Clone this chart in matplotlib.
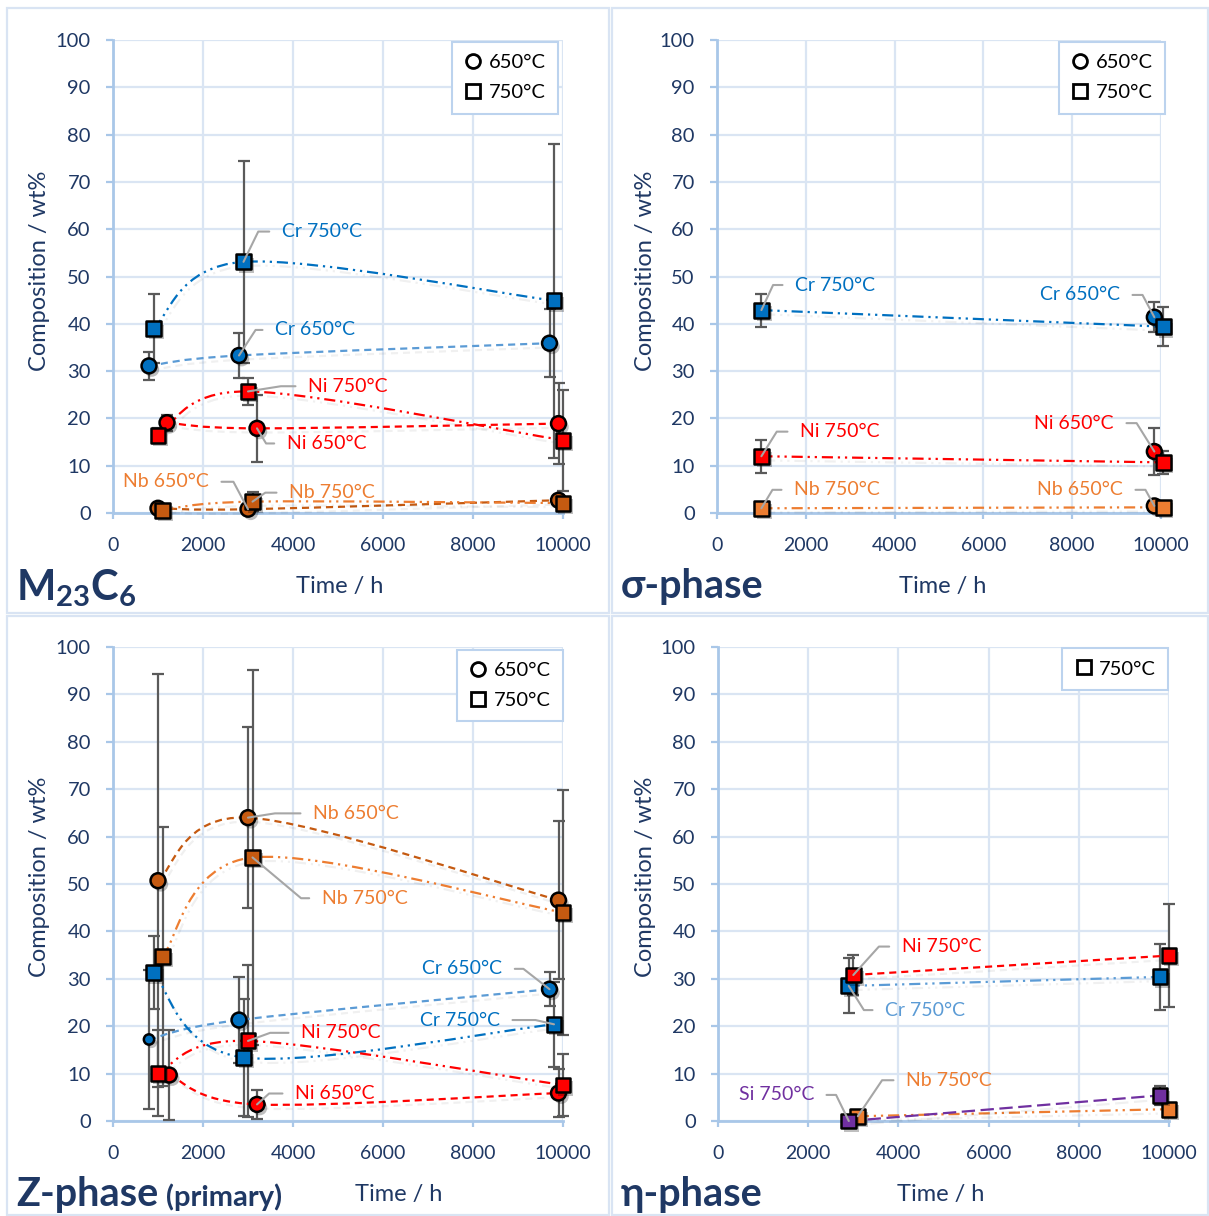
import matplotlib
matplotlib.use("Agg")
import matplotlib.pyplot as plt
import matplotlib.patheffects as pe
from matplotlib.path import Path
from matplotlib.patches import PathPatch, Rectangle
from matplotlib.lines import Line2D
import numpy as np

plt.rcParams['font.family'] = ['Lato', 'DejaVu Sans']
plt.rcParams['mathtext.fontset'] = 'custom'
plt.rcParams['mathtext.bf'] = 'Lato:bold'
plt.rcParams['mathtext.rm'] = 'Lato'

# ---- M23C6 ----
m23_cr650_t = [800, 2800, 9700]
m23_cr650_wt = [31.1, 33.3, 35.9]
m23_cr650_err = [3.0, 4.8, 7.2]
m23_cr750_t = [900, 2900, 9800]
m23_cr750_wt = [39.0, 53.1, 44.9]
m23_cr750_err = [7.2, 21.4, 33.2]
m23_ni650_t = [1200, 3200, 9900]
m23_ni650_wt = [19.1, 17.9, 18.9]
m23_ni650_err = [1.7, 7.1, 8.5]
m23_ni750_t = [1000, 3000, 10000]
m23_ni750_wt = [16.4, 25.7, 15.4]
m23_ni750_err = [1.5, 2.9, 10.7]
m23_nb650_t = [1000, 3000, 9900]
m23_nb650_wt = [1.0, 0.8, 2.7]
m23_nb650_err = [0.5, 0.5, 1.0]
m23_nb750_t = [1100, 3100, 10000]
m23_nb750_wt = [0.6, 2.4, 2.1]
m23_nb750_err = [0.5, 2.0, 0.8]

# ---- sigma phase ----
sig_cr650_t = [9850]
sig_cr650_wt = [41.4]
sig_cr650_err = [3.2]
sig_cr750_t = [1000, 10050]
sig_cr750_wt = [42.9, 39.4]
sig_cr750_err = [3.5, 4.1]
sig_ni650_t = [9850]
sig_ni650_wt = [13.0]
sig_ni650_err = [5.0]
sig_ni750_t = [1000, 10050]
sig_ni750_wt = [12.0, 10.7]
sig_ni750_err = [3.5, 2.5]
sig_nb650_t = [9850]
sig_nb650_wt = [1.5]
sig_nb650_err = [0.5]
sig_nb750_t = [1000, 10050]
sig_nb750_wt = [1.0, 1.2]
sig_nb750_err = [0.3, 0.3]

# ---- Z phase (primary) ----
z_cr650_t = [800, 2800, 9700]
z_cr650_wt = [17.2, 21.3, 27.8]
z_cr650_err = [14.6, 9.1, 3.6]
z_cr750_t = [900, 2900, 9800]
z_cr750_wt = [31.3, 13.4, 20.4]
z_cr750_err = [7.7, 12.3, 9.0]
z_nb650_t = [1000, 3000, 9900]
z_nb650_wt = [50.7, 64.0, 46.6]
z_nb650_err = [43.5, 19.1, 16.7]
z_nb750_t = [1100, 3100, 10000]
z_nb750_wt = [34.7, 55.6, 44.0]
z_nb750_err = [27.4, 39.5, 25.8]
z_ni650_t = [1250, 3200, 9900]
z_ni650_wt = [9.7, 3.5, 5.9]
z_ni650_err = [9.5, 3.0, 5.0]
z_ni750_t = [1000, 3000, 10000]
z_ni750_wt = [10.1, 16.9, 7.6]
z_ni750_err = [9.0, 16.0, 6.5]

# ---- eta phase ----
eta_cr750_t = [2900, 9800]
eta_cr750_wt = [28.5, 30.4]
eta_cr750_err = [5.8, 7.0]
eta_ni750_t = [3000, 10000]
eta_ni750_wt = [30.8, 34.9]
eta_ni750_err = [4.2, 10.8]
eta_si750_t = [2900, 9800]
eta_si750_wt = [0.0, 5.4]
eta_si750_err = [0.3, 2.0]
eta_nb750_t = [3100, 10000]
eta_nb750_wt = [1.0, 2.5]
eta_nb750_err = [0.3, 0.5]

NAVY = '#1f3864'
GRID = '#dae5f3'
SPINE = '#a9c7e8'
BORDER = '#d9e4f3'
LEADER = '#a6a6a6'
CR = '#0070c0'
CR_LIGHT = '#5b9bd5'
NI = '#ff0000'
NB_DARK = '#c55a11'
NB = '#ed7d31'
SI = '#7030a0'

DASH = (0, (3.2, 2.2))
DASHDOTDOT = (0, (5, 2.2, 1, 2.2, 1, 2.2))
LONGDASH = (0, (6, 2.5))

W, H = 1209, 1216


def fx(px):
    return px / W


def fy(py):
    return 1 - py / H


def smooth_path(x, y):
    # cubic Bezier through the points (Catmull-Rom tangents), like Excel smoothed lines
    pts = np.column_stack([x, y]).astype(float)
    n = len(pts)
    verts = [pts[0]]
    codes = [Path.MOVETO]
    for i in range(n - 1):
        p0 = pts[i - 1] if i > 0 else pts[i]
        p1 = pts[i]
        p2 = pts[i + 1]
        p3 = pts[i + 2] if i + 2 < n else pts[i + 1]
        c1 = p1 + (p2 - p0) / 6.0
        c2 = p2 - (p3 - p1) / 6.0
        verts += [c1, c2, p2]
        codes += [Path.CURVE4] * 3
    return Path(verts, codes)


def draw_series(ax, t, wt, err, face, line, ls, marker, sizes=None):
    eb = ax.errorbar(t, wt, yerr=err, fmt='none', ecolor='#5a5a5a', elinewidth=1.6,
                     capsize=4.5, capthick=1.6, zorder=3)
    for art in eb.lines[1] + eb.lines[2]:
        art.set_clip_on(False)
    if len(t) > 1:
        patch = PathPatch(smooth_path(t, wt), fill=False, edgecolor=line, lw=1.6,
                          linestyle=ls, capstyle='butt', zorder=4, clip_on=False,
                          path_effects=[pe.SimpleLineShadow(offset=(2, -3), alpha=0.06),
                                        pe.Normal()])
        ax.add_patch(patch)
    if sizes is None:
        sizes = [115] * len(t)
    ax.scatter(t, wt, s=sizes, marker=marker, facecolor=face, edgecolor='black',
               linewidths=1.8, zorder=6, clip_on=False,
               path_effects=[pe.SimplePatchShadow(offset=(2, -2.5), shadow_rgbFace='black',
                                                  alpha=0.25),
                             pe.Normal()])


def leader_label(ax, text, point, textpos, color, angle, ha='left'):
    ax.annotate(text, xy=point, xytext=textpos, textcoords='data',
                ha=ha, va='center', color=color, fontsize=14, zorder=8,
                arrowprops=dict(arrowstyle='-', color=LEADER, lw=1.5,
                                relpos=(0, 0.5) if ha == 'left' else (1, 0.5),
                                shrinkA=7, shrinkB=0,
                                connectionstyle='angle,angleA=0,angleB=%g,rad=0' % angle))


def setup_axes(rect, legend_labels, legend_anchor):
    ax = fig.add_axes(rect)
    ax.set_xlim(0, 10000)
    ax.set_ylim(0, 100)
    ax.set_xticks(np.arange(0, 10001, 2000))
    ax.set_yticks(np.arange(0, 101, 10))
    ax.grid(True, color=GRID, lw=1.6, zorder=0)
    ax.set_axisbelow(True)
    for s in ('top', 'right'):
        ax.spines[s].set_visible(False)
    for s in ('left', 'bottom'):
        ax.spines[s].set_color(SPINE)
        ax.spines[s].set_linewidth(2)
    ax.tick_params(axis='y', direction='out', length=5, width=1.6, color=SPINE,
                   labelcolor=NAVY, labelsize=14.5, pad=11)
    ax.tick_params(axis='x', direction='out', length=4, width=1.6, color=SPINE,
                   labelcolor=NAVY, labelsize=14, pad=13)
    handles = []
    for lab in legend_labels:
        mk = 'o' if lab.startswith('650') else 's'
        handles.append(Line2D([], [], ls='none', marker=mk, mfc='none', mec='black',
                              mew=2.0, ms=10, label=lab))
    leg = ax.legend(handles=handles, loc='upper right', bbox_to_anchor=legend_anchor,
                    borderaxespad=0, fancybox=False, fontsize=14.5, handletextpad=0.3,
                    handlelength=0.9, borderpad=0.62, labelspacing=0.62, framealpha=1)
    leg.get_frame().set_edgecolor('#bcd3ee')
    leg.get_frame().set_linewidth(1.5)
    leg.set_zorder(9)
    return ax


fig = plt.figure(figsize=(W / 100, H / 100), dpi=100)

# panel frames
for x0, y0, x1, y1 in [(7, 8, 609, 613), (612, 8, 1208, 613),
                       (7, 616, 609, 1215), (612, 616, 1208, 1215)]:
    fig.patches.append(Rectangle((fx(x0), fy(y1)), fx(x1) - fx(x0), fy(y0) - fy(y1),
                                 transform=fig.transFigure, fill=False,
                                 edgecolor=BORDER, lw=1.6))

ax1 = setup_axes([fx(113), fy(513), 450 / W, 473 / H], ['650°C', '750°C'], (0.989, 0.996))
ax2 = setup_axes([fx(717), fy(513), 444 / W, 473 / H], ['650°C', '750°C'], (1.009, 0.996))
ax3 = setup_axes([fx(113), fy(1121), 450 / W, 474 / H], ['650°C', '750°C'], (1.0, 0.994))
ax4 = setup_axes([fx(718), fy(1121), 451 / W, 474 / H], ['750°C'], (0.998, 0.998))

# M23C6
draw_series(ax1, m23_cr650_t, m23_cr650_wt, m23_cr650_err, CR, CR_LIGHT, DASH, 'o')
draw_series(ax1, m23_cr750_t, m23_cr750_wt, m23_cr750_err, CR, CR, DASHDOTDOT, 's')
draw_series(ax1, m23_ni650_t, m23_ni650_wt, m23_ni650_err, NI, NI, DASH, 'o')
draw_series(ax1, m23_ni750_t, m23_ni750_wt, m23_ni750_err, NI, NI, DASHDOTDOT, 's')
draw_series(ax1, m23_nb650_t, m23_nb650_wt, m23_nb650_err, NB_DARK, NB_DARK, DASH, 'o')
draw_series(ax1, m23_nb750_t, m23_nb750_wt, m23_nb750_err, NB_DARK, NB, DASHDOTDOT, 's')
leader_label(ax1, 'Cr 750°C', (m23_cr750_t[1], m23_cr750_wt[1]), (3750, 59.5), CR, 64)
leader_label(ax1, 'Cr 650°C', (m23_cr650_t[1], m23_cr650_wt[1]), (3600, 38.7), CR, 57)
leader_label(ax1, 'Ni 750°C', (m23_ni750_t[1], m23_ni750_wt[1]), (4333, 26.8), NI, 9)
leader_label(ax1, 'Ni 650°C', (m23_ni650_t[1], m23_ni650_wt[1]), (3860, 14.7), NI, -59)
leader_label(ax1, 'Nb 650°C', (m23_nb650_t[1], m23_nb650_wt[1]), (2133, 6.6), NB, 118, ha='right')
leader_label(ax1, 'Nb 750°C', (m23_nb750_t[1], m23_nb750_wt[1]), (3911, 4.3), NB, 35)

# sigma phase
draw_series(ax2, sig_cr650_t, sig_cr650_wt, sig_cr650_err, CR, CR_LIGHT, DASH, 'o')
draw_series(ax2, sig_cr750_t, sig_cr750_wt, sig_cr750_err, CR, CR, DASHDOTDOT, 's')
draw_series(ax2, sig_ni650_t, sig_ni650_wt, sig_ni650_err, NI, NI, DASH, 'o')
draw_series(ax2, sig_ni750_t, sig_ni750_wt, sig_ni750_err, NI, NI, DASHDOTDOT, 's')
draw_series(ax2, sig_nb650_t, sig_nb650_wt, sig_nb650_err, NB, NB, DASH, 'o')
draw_series(ax2, sig_nb750_t, sig_nb750_wt, sig_nb750_err, NB, NB, DASHDOTDOT, 's')
leader_label(ax2, 'Cr 750°C', (sig_cr750_t[0], sig_cr750_wt[0]), (1757, 48.2), CR, 65)
leader_label(ax2, 'Cr 650°C', (sig_cr650_t[0], sig_cr650_wt[0]), (9077, 46.1), CR, 118, ha='right')
leader_label(ax2, 'Ni 750°C', (sig_ni750_t[0], sig_ni750_wt[0]), (1869, 17.2), NI, 58)
leader_label(ax2, 'Ni 650°C', (sig_ni650_t[0], sig_ni650_wt[0]), (8941, 19.0), NI, 122, ha='right')
leader_label(ax2, 'Nb 750°C', (sig_nb750_t[0], sig_nb750_wt[0]), (1734, 4.9), NB, 59)
leader_label(ax2, 'Nb 650°C', (sig_nb650_t[0], sig_nb650_wt[0]), (9144, 4.9), NB, 119, ha='right')

# Z phase
draw_series(ax3, z_cr650_t, z_cr650_wt, z_cr650_err, CR, CR_LIGHT, DASH, 'o', sizes=[55, 115, 115])
draw_series(ax3, z_cr750_t, z_cr750_wt, z_cr750_err, CR, CR, DASHDOTDOT, 's')
draw_series(ax3, z_nb650_t, z_nb650_wt, z_nb650_err, NB_DARK, NB_DARK, DASH, 'o')
draw_series(ax3, z_nb750_t, z_nb750_wt, z_nb750_err, NB_DARK, NB, DASHDOTDOT, 's')
draw_series(ax3, z_ni650_t, z_ni650_wt, z_ni650_err, NI, NI, DASH, 'o')
draw_series(ax3, z_ni750_t, z_ni750_wt, z_ni750_err, NI, NI, DASHDOTDOT, 's')
leader_label(ax3, 'Nb 650°C', (z_nb650_t[1], z_nb650_wt[1]), (4444, 64.9), NB, 9)
leader_label(ax3, 'Nb 750°C', (z_nb750_t[1], z_nb750_wt[1]), (4638, 47.0), NB, -40)
leader_label(ax3, 'Cr 650°C', (z_cr650_t[2], z_cr650_wt[2]), (8651, 32.1), CR, 142, ha='right')
leader_label(ax3, 'Cr 750°C', (z_cr750_t[2], z_cr750_wt[2]), (8600, 21.3), CR, 167, ha='right')
leader_label(ax3, 'Ni 750°C', (z_ni750_t[1], z_ni750_wt[1]), (4178, 18.6), NI, 20)
leader_label(ax3, 'Ni 650°C', (z_ni650_t[1], z_ni650_wt[1]), (4044, 5.8), NI, 42)

# eta phase
draw_series(ax4, eta_cr750_t, eta_cr750_wt, eta_cr750_err, CR, CR_LIGHT, DASHDOTDOT, 's')
draw_series(ax4, eta_ni750_t, eta_ni750_wt, eta_ni750_err, NI, NI, DASH, 's')
draw_series(ax4, eta_nb750_t, eta_nb750_wt, eta_nb750_err, NB, NB, DASHDOTDOT, 's')
draw_series(ax4, eta_si750_t, eta_si750_wt, eta_si750_err, SI, SI, LONGDASH, 's')
leader_label(ax4, 'Ni 750°C', (eta_ni750_t[0], eta_ni750_wt[0]), (4073, 36.8), NI, 48)
leader_label(ax4, 'Cr 750°C', (eta_cr750_t[0], eta_cr750_wt[0]), (3703, 23.4), CR_LIGHT, -58)
leader_label(ax4, 'Nb 750°C', (eta_nb750_t[0], eta_nb750_wt[0]), (4168, 8.6), NB, 56)
leader_label(ax4, 'Si 750°C', (eta_si750_t[0], eta_si750_wt[0]), (2129, 5.5), SI, 116, ha='right')

# axis titles
for x, y in [(40, 271), (645, 271), (40, 877), (645, 877)]:
    fig.text(fx(x), fy(y), 'Composition / wt%', rotation=90, ha='center', va='center',
             color=NAVY, fontsize=17)
for x, y in [(340, 587), (943, 587), (399, 1195), (941, 1195)]:
    fig.text(fx(x), fy(y), 'Time / h', ha='center', va='center', color=NAVY, fontsize=17)

# phase names
fig.text(fx(16), fy(600), r'$\mathbf{M}_{\mathbf{23}}\mathbf{C}_{\mathbf{6}}$',
         ha='left', va='baseline', color=NAVY, fontsize=30)
fig.text(fx(621), fy(598), 'σ-phase', ha='left', va='baseline', color=NAVY,
         fontsize=28.5, fontweight='bold')
fig.text(fx(16), fy(1206), 'Z-phase', ha='left', va='baseline', color=NAVY,
         fontsize=28.5, fontweight='bold')
fig.text(fx(166), fy(1206), '(primary)', ha='left', va='baseline', color=NAVY,
         fontsize=21, fontweight='bold')
fig.text(fx(621), fy(1206), 'η-phase', ha='left', va='baseline', color=NAVY,
         fontsize=28.5, fontweight='bold')

fig.savefig('out.png', dpi=100)
